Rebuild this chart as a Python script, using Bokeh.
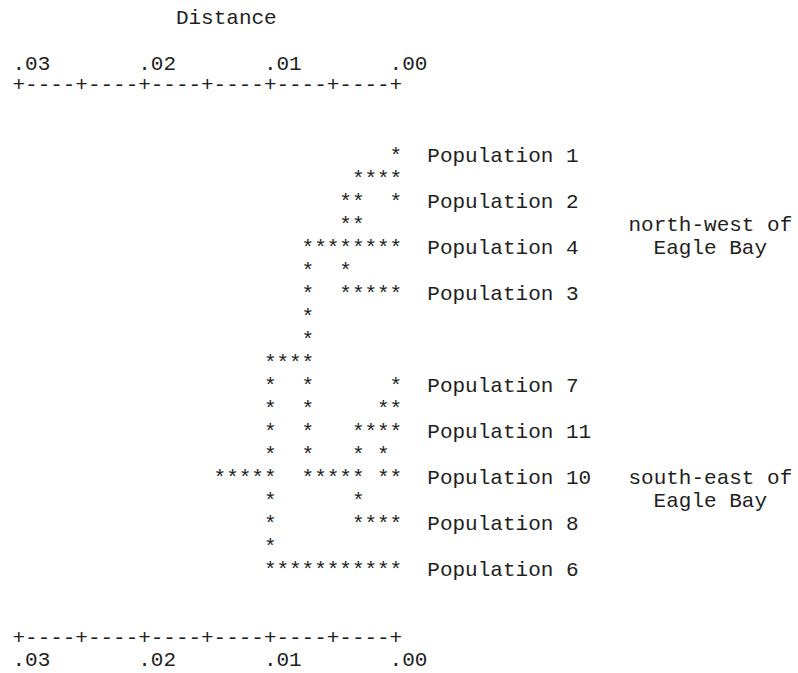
from bokeh.plotting import figure
from bokeh.models import ColumnDataSource, Range1d
from bokeh.core.properties import value
from bokeh.embed import file_html
from bokeh.resources import INLINE

# Dendrogram (average linkage) printed as a character grid; one string per row.
tree_rows = [
    "                              *",
    "                           ****",
    "                          **  *",
    "                          **",
    "                       ********",
    "                       *  *",
    "                       *  *****",
    "                       *",
    "                       *",
    "                    ****",
    "                    *  *      *",
    "                    *  *     **",
    "                    *  *   ****",
    "                    *  *   * *",
    "                *****  ***** **",
    "                    *      *",
    "                    *      ****",
    "                    *",
    "                    ***********",
]

# Leaf labels and the grid row they sit on
pop_labels = ["Population 1", "Population 2", "Population 4", "Population 3",
              "Population 7", "Population 11", "Population 10", "Population 8",
              "Population 6"]
pop_rows = [0, 2, 4, 6, 10, 12, 14, 16, 18]

# Regional group captions
group_text = ["north-west of", "Eagle Bay", "south-east of", "Eagle Bay"]
group_rows = [3, 4, 14, 15]
group_cols = [49, 51, 49, 51]

# Distance scale
tick_labels = [".03", ".02", ".01", ".00"]
tick_cols = [0, 10, 20, 30]
scale_line = "+----+----+----+----+----+----+"

FONT = value("Liberation Mono")
SIZE = "21px"
INK = "#1e1e1e"

CHAR_W = 12.57      # pixel width of one character cell
X0 = 12.0           # pixel position of column 0
ROW0 = 156.0        # baseline of the first tree row
ROW_H = 23.0        # line spacing

W, H = 798, 673


def row_y(r):
    return ROW0 + ROW_H * r


p = figure(width=W, height=H, output_backend="svg", toolbar_location=None,
           x_range=Range1d(-X0 / CHAR_W, (W - X0) / CHAR_W),
           y_range=Range1d(H, 0), min_border=0)
p.axis.visible = False
p.grid.visible = False
p.outline_line_color = None
p.background_fill_color = "white"
p.border_fill_color = "white"


def put_text(xs, ys, ts):
    src = ColumnDataSource(dict(x=xs, y=ys, t=ts))
    p.text(x="x", y="y", text="t", source=src, text_font=FONT,
           text_font_size=SIZE, text_color=INK, text_align="left",
           text_baseline="alphabetic")


# star cells of the tree
sx, sy = [], []
for r, line in enumerate(tree_rows):
    for c, ch in enumerate(line):
        if ch == "*":
            sx.append(c)
            sy.append(row_y(r))
put_text(sx, sy, ["*"] * len(sx))

# leaf labels, three cells right of the tree
put_text([33] * len(pop_labels), [row_y(r) for r in pop_rows], pop_labels)

# regional captions
put_text(group_cols, [row_y(r) for r in group_rows], group_text)

# scale: title, tick labels and rulers at top and bottom
title_y = 18.0
top_lab_y, top_rule_y = 63.0, 84.0
bot_rule_y, bot_lab_y = 637.0, 659.0

put_text([13], [title_y], ["Distance"])

rule_x = list(range(len(scale_line)))
rule_t = list(scale_line)
for yy in (top_rule_y, bot_rule_y):
    put_text(rule_x, [yy] * len(rule_x), rule_t)
for yy in (top_lab_y, bot_lab_y):
    put_text(tick_cols, [yy] * len(tick_cols), tick_labels)

open("out.html", "w").write(file_html(p, INLINE))
